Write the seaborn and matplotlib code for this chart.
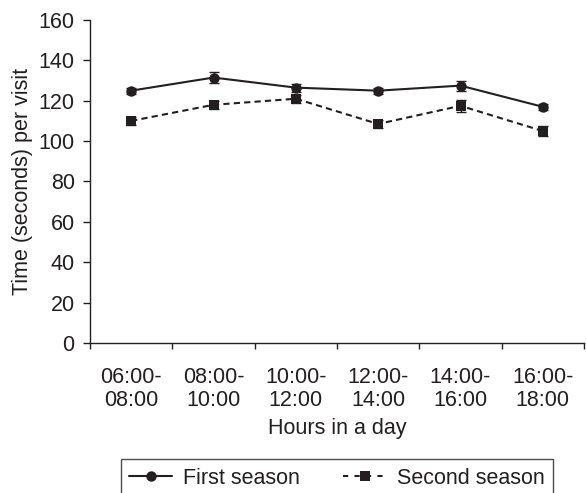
import matplotlib
matplotlib.use("Agg")
import matplotlib.pyplot as plt
import numpy as np
import pandas as pd
import seaborn as sns

hours = ["06:00-\n08:00", "08:00-\n10:00", "10:00-\n12:00",
         "12:00-\n14:00", "14:00-\n16:00", "16:00-\n18:00"]
first_season = [125, 131.5, 126.5, 125, 127.5, 117]
first_err = [1.5, 2.5, 2, 1.5, 2.5, 1.5]
second_season = [110, 118, 121, 108.5, 117.5, 105]
second_err = [2, 2, 2, 2, 3, 2.5]
seasons = ["First season", "Second season"]

ink = "#231f20"
fs = 15.5

sns.set_theme(style="white")
plt.rcParams["font.family"] = ["Liberation Sans", "DejaVu Sans"]
plt.rcParams["text.color"] = ink
plt.rcParams["axes.labelcolor"] = ink
plt.rcParams["xtick.color"] = ink
plt.rcParams["ytick.color"] = ink

pos = np.arange(len(hours))
df = pd.DataFrame({
    "pos": np.concatenate([pos, pos]),
    "value": first_season + second_season,
    "season": [seasons[0]] * len(pos) + [seasons[1]] * len(pos),
})

fig = plt.figure(figsize=(5.86, 4.93), dpi=100)
ax = fig.add_axes([0.1536, 0.3043, 0.843, 0.6551])

sns.lineplot(data=df, x="pos", y="value", hue="season", style="season",
             palette=[ink, ink], markers=["o", "s"], dashes=[(None, None), (3, 2)],
             markersize=7.5, linewidth=1.5, markeredgewidth=0, legend=False, ax=ax)

for vals, errs in [(first_season, first_err), (second_season, second_err)]:
    ax.errorbar(pos, vals, yerr=errs, fmt="none", ecolor=ink, elinewidth=1,
                capsize=3.5, capthick=1)

ax.set_xlim(-0.5, len(hours) - 0.5)
ax.set_ylim(0, 160)
ax.set_yticks(np.arange(0, 161, 20))
ax.set_xticks(np.arange(-0.5, len(hours), 1.0))
ax.set_xticklabels([])
ax.set_xticks(pos, minor=True)
ax.set_xticklabels(hours, minor=True, linespacing=1.1)
ax.tick_params(axis="x", which="major", direction="out", length=4, width=1,
               bottom=True)
ax.tick_params(axis="x", which="minor", length=0, pad=17.5, labelsize=fs)
ax.tick_params(axis="y", direction="out", length=5, width=1, pad=6,
               labelsize=fs, left=True)

sns.despine(ax=ax)
for side in ["left", "bottom"]:
    ax.spines[side].set_color(ink)
    ax.spines[side].set_linewidth(1)

ax.set_xlabel("Hours in a day", fontsize=fs, labelpad=5)
ax.set_ylabel("Time (seconds) per visit", fontsize=fs, labelpad=4)

handles = [
    plt.Line2D([], [], color=ink, lw=1.5, marker="o", markersize=7.5, markeredgewidth=0),
    plt.Line2D([], [], color=ink, lw=1.5, ls=(0, (2.5, 3)), marker="s",
               markersize=7.5, markeredgewidth=0),
]
leg = fig.legend(handles, seasons, loc="upper center",
                 bbox_to_anchor=(0.575, 1 - 459 / 493), ncol=2, fontsize=fs,
                 frameon=True, fancybox=False, edgecolor=ink, handlelength=2,
                 handletextpad=0.5, columnspacing=2.0, borderpad=0.4,
                 borderaxespad=0)
leg.get_frame().set_linewidth(1)

fig.savefig("out.png", dpi=100)
